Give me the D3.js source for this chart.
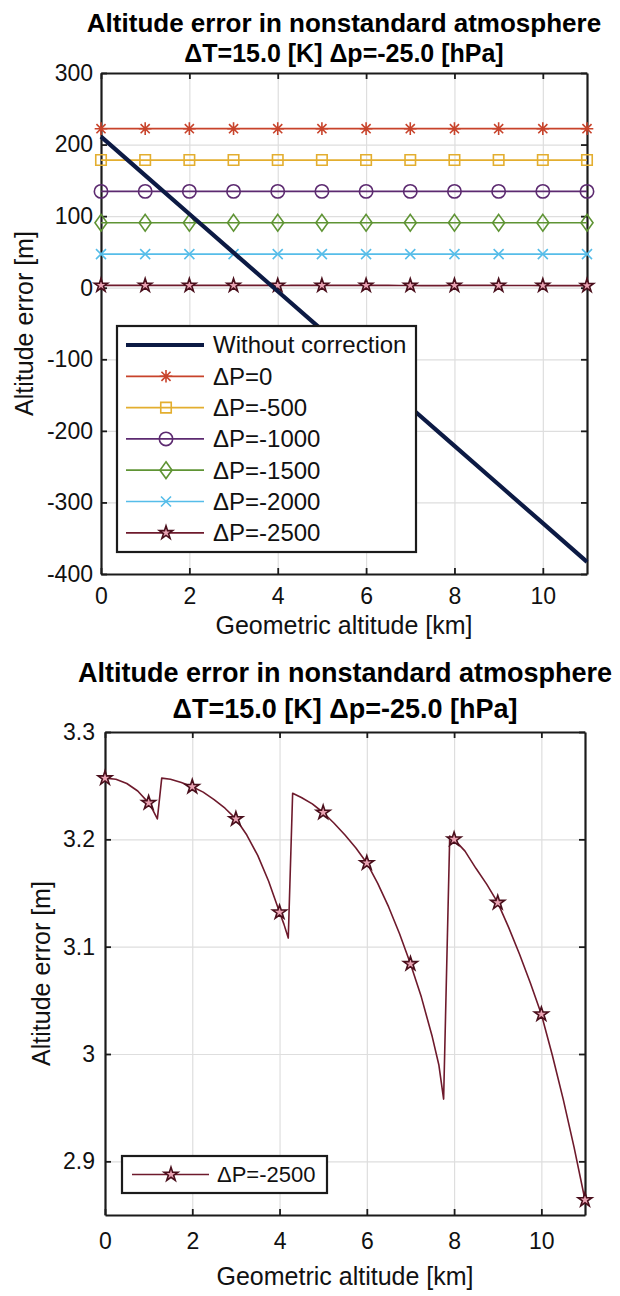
<!DOCTYPE html>
<html>
<head>
<meta charset="utf-8">
<script src="https://cdn.jsdelivr.net/npm/d3@7"></script>
<style>
  body { margin: 0; background: #fff; }
  svg { display: block; font-family: "Liberation Sans", Arial, sans-serif; }
</style>
</head>
<body>
<svg id="chart" width="620" height="1296"></svg>
<script>
// values
const titleLine1 = "Altitude error in nonstandard atmosphere";
const titleLine2 = "ΔT=15.0 [K] Δp=-25.0 [hPa]";
const xTitle = "Geometric altitude [km]";
const yTitle = "Altitude error [m]";

const kmTicks = [0, 2, 4, 6, 8, 10];
const topErrTicks = [-400, -300, -200, -100, 0, 100, 200, 300];
const detailErrTicks = [2.9, 3, 3.1, 3.2, 3.3];

const markerKm = [0, 1, 2, 3, 4, 5, 6, 7, 8, 9, 10, 11];
const errWithoutCorrection = [211, 157, 103, 49, -5, -59, -113, -167, -221, -275, -329, -383];
const errDp0    = [222.2, 222.2, 222.2, 222.2, 222.2, 222.2, 222.2, 222.2, 222.2, 222.2, 222.2, 222.2];
const errDp500  = [178.4, 178.4, 178.4, 178.4, 178.4, 178.4, 178.4, 178.4, 178.4, 178.4, 178.4, 178.4];
const errDp1000 = [134.6, 134.6, 134.6, 134.6, 134.6, 134.6, 134.6, 134.6, 134.6, 134.6, 134.6, 134.6];
const errDp1500 = [90.8, 90.8, 90.8, 90.8, 90.8, 90.8, 90.8, 90.8, 90.8, 90.8, 90.8, 90.8];
const errDp2000 = [47.0, 47.0, 47.0, 47.0, 47.0, 47.0, 47.0, 47.0, 47.0, 47.0, 47.0, 47.0];

// ΔP=-2500 in detail (bottom panel)
const detailKm = [0, 0.25, 0.5, 0.75, 1, 1.1, 1.2, 1.3, 1.5, 1.75, 2, 2.25, 2.5, 2.75, 3, 3.25, 3.5, 3.75, 4, 4.1, 4.2,
  4.3, 4.5, 4.75, 5, 5.25, 5.5, 5.75, 6, 6.25, 6.5, 6.75, 7, 7.25, 7.5, 7.65, 7.76,
  7.9, 8, 8.25, 8.5, 8.75, 9, 9.25, 9.5, 9.75, 10, 10.25, 10.5, 10.75, 11];
const detailErr = [3.257, 3.256, 3.252, 3.245, 3.234, 3.227, 3.219, 3.257, 3.256, 3.253, 3.249, 3.244, 3.237, 3.229, 3.219, 3.204, 3.185, 3.161, 3.132, 3.121, 3.108,
  3.243, 3.239, 3.233, 3.225, 3.215, 3.204, 3.192, 3.178, 3.159, 3.137, 3.112, 3.084, 3.053, 3.016, 2.99, 2.958,
  3.203, 3.200, 3.189, 3.173, 3.158, 3.141, 3.118, 3.093, 3.066, 3.037, 2.999, 2.958, 2.913, 2.864];

const seriesNames = ["ΔP=0", "ΔP=-500", "ΔP=-1000", "ΔP=-1500", "ΔP=-2000", "ΔP=-2500"];

// custom marker shapes (MATLAB style)
const symAsterisk = {
  draw(ctx, size) {
    const r = Math.sqrt(size) / 2, d = r * 0.72;
    ctx.moveTo(0, -r); ctx.lineTo(0, r);
    ctx.moveTo(-r, 0); ctx.lineTo(r, 0);
    ctx.moveTo(-d, -d); ctx.lineTo(d, d);
    ctx.moveTo(d, -d); ctx.lineTo(-d, d);
  }
};
const symTimes = {
  draw(ctx, size) {
    const r = Math.sqrt(size) / 2;
    ctx.moveTo(-r, -r); ctx.lineTo(r, r);
    ctx.moveTo(r, -r); ctx.lineTo(-r, r);
  }
};
const symDiamond = {
  draw(ctx, size) {
    const h = Math.sqrt(size) / 2, w = h * 0.72;
    ctx.moveTo(0, -h); ctx.lineTo(w, 0); ctx.lineTo(0, h); ctx.lineTo(-w, 0); ctx.closePath();
  }
};

const toPoints = (xs, ys) => xs.map((x, i) => ({ x: x, y: ys[i] }));
const starPoints = toPoints(detailKm, detailErr);

const topSeries = [
  { name: seriesNames[0], pts: toPoints(markerKm, errDp0), marks: toPoints(markerKm, errDp0), color: "#c8432b", fill: "none", sym: symAsterisk, size: 160 },
  { name: seriesNames[1], pts: toPoints(markerKm, errDp500), marks: toPoints(markerKm, errDp500), color: "#e3ae2f", fill: "none", sym: d3.symbolSquare, size: 110 },
  { name: seriesNames[2], pts: toPoints(markerKm, errDp1000), marks: toPoints(markerKm, errDp1000), color: "#5c2a70", fill: "none", sym: d3.symbolCircle, size: 140 },
  { name: seriesNames[3], pts: toPoints(markerKm, errDp1500), marks: toPoints(markerKm, errDp1500), color: "#5f9434", fill: "none", sym: symDiamond, size: 280 },
  { name: seriesNames[4], pts: toPoints(markerKm, errDp2000), marks: toPoints(markerKm, errDp2000), color: "#56bde9", fill: "none", sym: symTimes, size: 100 },
  { name: seriesNames[5], pts: starPoints, marks: starPoints.filter(p => Number.isInteger(p.x)), color: "#6e1a2c", fill: "#eaa3b3", sym: d3.symbolStar, size: 55, edge: "#4a0f1c" }
];

const svg = d3.select("#chart");

function drawPanel(cfg) {
  const x = d3.scaleLinear().domain([0, 11]).range([cfg.left, cfg.right]);
  const y = d3.scaleLinear().domain(cfg.yDomain).range([cfg.bottom, cfg.top]);
  const w = cfg.right - cfg.left, h = cfg.bottom - cfg.top;
  const g = svg.append("g");

  // grid
  g.append("g").attr("transform", `translate(0,${cfg.bottom})`)
    .call(d3.axisBottom(x).tickValues(kmTicks).tickSize(-h).tickFormat(""))
    .call(a => a.select(".domain").remove())
    .selectAll("line").attr("stroke", "#dedede").attr("stroke-width", 1.2);
  g.append("g").attr("transform", `translate(${cfg.left},0)`)
    .call(d3.axisLeft(y).tickValues(cfg.yTicks).tickSize(-w).tickFormat(""))
    .call(a => a.select(".domain").remove())
    .selectAll("line").attr("stroke", "#dedede").attr("stroke-width", 1.2);

  // axes with inward ticks on all four sides
  const axes = [
    [d3.axisBottom(x).tickValues(kmTicks).tickSizeInner(-6).tickSizeOuter(0).tickPadding(cfg.xPad), `translate(0,${cfg.bottom})`],
    [d3.axisTop(x).tickValues(kmTicks).tickSizeInner(-6).tickSizeOuter(0).tickFormat(""), `translate(0,${cfg.top})`],
    [d3.axisLeft(y).tickValues(cfg.yTicks).tickSizeInner(-6).tickSizeOuter(0).tickPadding(cfg.yPad).tickFormat(cfg.yFormat), `translate(${cfg.left},0)`],
    [d3.axisRight(y).tickValues(cfg.yTicks).tickSizeInner(-6).tickSizeOuter(0).tickFormat(""), `translate(${cfg.right},0)`]
  ];
  axes.forEach(([ax, tr]) => {
    const a = g.append("g").attr("transform", tr).call(ax);
    a.select(".domain").attr("stroke", "#1b1b1b").attr("stroke-width", 2.2);
    a.selectAll(".tick line").attr("stroke", "#1b1b1b").attr("stroke-width", 1.8);
    a.selectAll("text").attr("fill", "#111").style("font-size", cfg.tickFont + "px")
      .style("font-family", '"Liberation Sans", Arial, sans-serif');
  });

  // titles
  const cx = (cfg.left + cfg.right) / 2;
  g.append("text").attr("x", cx).attr("y", cfg.t1y).attr("text-anchor", "middle")
    .attr("font-weight", "bold").style("font-size", cfg.t1Font + "px").text(titleLine1);
  g.append("text").attr("x", cx).attr("y", cfg.t2y).attr("text-anchor", "middle")
    .attr("font-weight", "bold").style("font-size", cfg.t2Font + "px").text(titleLine2);
  g.append("text").attr("x", cx).attr("y", cfg.xTitleY).attr("text-anchor", "middle")
    .style("font-size", cfg.labelFont + "px").attr("fill", "#111").text(xTitle);
  g.append("text").attr("transform", `translate(${cfg.yTitleX},${(cfg.top + cfg.bottom) / 2}) rotate(-90)`)
    .attr("text-anchor", "middle").style("font-size", cfg.labelFont + "px").attr("fill", "#111").text(yTitle);

  return { g, x, y };
}

function drawSeries(panel, s, lw) {
  const line = d3.line().x(d => panel.x(d.x)).y(d => panel.y(d.y));
  panel.g.append("path").datum(s.pts).attr("d", line)
    .attr("fill", "none").attr("stroke", s.color).attr("stroke-width", lw).attr("stroke-linejoin", "round");
  panel.g.selectAll(null).data(s.marks).enter().append("path")
    .attr("transform", d => `translate(${panel.x(d.x)},${panel.y(d.y)})`)
    .attr("d", d3.symbol().type(s.sym).size(s.size))
    .attr("fill", s.fill).attr("stroke", s.edge || s.color).attr("stroke-width", 1.6);
}

function legendMarker(g, s, mx, my) {
  g.append("path").attr("transform", `translate(${mx},${my})`)
    .attr("d", d3.symbol().type(s.sym).size(s.size))
    .attr("fill", s.fill).attr("stroke", s.edge || s.color).attr("stroke-width", 1.6);
}

// ---------- top panel ----------
const topPanel = drawPanel({
  left: 101, right: 587, top: 73, bottom: 574,
  yDomain: [-400, 300], yTicks: topErrTicks, yFormat: d => String(d),
  xPad: 14, yPad: 8, tickFont: 23, labelFont: 25,
  t1y: 32, t2y: 62, t1Font: 26, t2Font: 25,
  xTitleY: 634, yTitleX: 33
});

topSeries.forEach(s => drawSeries(topPanel, s, 1.7));

topPanel.g.append("path")
  .datum(toPoints(markerKm, errWithoutCorrection))
  .attr("d", d3.line().x(d => topPanel.x(d.x)).y(d => topPanel.y(d.y)))
  .attr("fill", "none").attr("stroke", "#0c1a44").attr("stroke-width", 4.2);

// legend (top)
const lg = topPanel.g.append("g");
lg.append("rect").attr("x", 117).attr("y", 326).attr("width", 299).attr("height", 226)
  .attr("fill", "#fff").attr("stroke", "#1b1b1b").attr("stroke-width", 2.2);
const rowY = i => 345 + i * 31.3;
lg.append("line").attr("x1", 126).attr("x2", 204).attr("y1", rowY(0)).attr("y2", rowY(0))
  .attr("stroke", "#0c1a44").attr("stroke-width", 4.2);
lg.append("text").attr("x", 213).attr("y", rowY(0)).attr("dy", "0.35em")
  .style("font-size", "24px").attr("fill", "#111").text("Without correction");
topSeries.forEach((s, i) => {
  const yy = rowY(i + 1);
  lg.append("line").attr("x1", 126).attr("x2", 204).attr("y1", yy).attr("y2", yy)
    .attr("stroke", s.color).attr("stroke-width", 1.7);
  legendMarker(lg, s, 166, yy);
  lg.append("text").attr("x", 213).attr("y", yy).attr("dy", "0.35em")
    .style("font-size", "24px").attr("fill", "#111").text(s.name);
});

// ---------- bottom panel ----------
const bottomPanel = drawPanel({
  left: 105, right: 585, top: 732, bottom: 1215,
  yDomain: [2.85, 3.3], yTicks: detailErrTicks, yFormat: d => String(+d.toFixed(1)),
  xPad: 18, yPad: 10, tickFont: 23, labelFont: 25,
  t1y: 682, t2y: 718, t1Font: 27, t2Font: 27,
  xTitleY: 1285, yTitleX: 50
});

const starSeries = Object.assign({}, topSeries[5], { size: 60 });
drawSeries(bottomPanel, starSeries, 1.6);

const lb = bottomPanel.g.append("g");
lb.append("rect").attr("x", 122).attr("y", 1156).attr("width", 205).attr("height", 37)
  .attr("fill", "#fff").attr("stroke", "#1b1b1b").attr("stroke-width", 2.2);
lb.append("line").attr("x1", 132).attr("x2", 209).attr("y1", 1174.5).attr("y2", 1174.5)
  .attr("stroke", starSeries.color).attr("stroke-width", 1.6);
legendMarker(lb, starSeries, 171, 1174.5);
lb.append("text").attr("x", 217).attr("y", 1174.5).attr("dy", "0.35em")
  .style("font-size", "22px").attr("fill", "#111").text(starSeries.name);
</script>
</body>
</html>
